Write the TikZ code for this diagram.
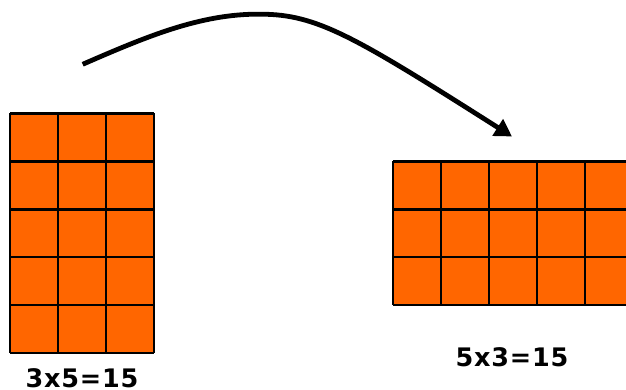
\documentclass[tikz,border=0pt]{standalone}
\usepackage{fontspec}
\setmainfont{DejaVu Sans}
\newfontfamily\labelfont[LetterSpace=3]{DejaVu Sans}
\usetikzlibrary{arrows.meta}
\definecolor{cellorange}{HTML}{FF6600}
\tikzset{
  gridline/.style={draw=black, line width=2.4pt},
  curvearrow/.style={draw=black, line width=4.8pt, -{Triangle[length=17pt,width=19pt]}},
  prodlabel/.style={font=\labelfont\bfseries\fontsize{25.5}{30}\selectfont, inner sep=0pt, anchor=base}
}
\begin{document}
\begin{tikzpicture}[x=1pt,y=-1pt]
\useasboundingbox (0,0) rectangle (626,390);
\clip (0,0) rectangle (626,390);
% left grid 3x5
\fill[cellorange] (10,113.5) rectangle (154,353);
\foreach \i in {0,...,3} \draw[gridline] (10+48*\i,113.5) -- (10+48*\i,353);
\foreach \j in {0,...,5} \draw[gridline] (10,113.5+47.9*\j) -- (154,113.5+47.9*\j);
% right grid 5x3
\fill[cellorange] (393,161.5) rectangle (633,305);
\foreach \i in {0,...,5} \draw[gridline] (393+48*\i,161.5) -- (393+48*\i,305);
\foreach \j in {0,...,3} \draw[gridline] (393,161.5+47.83*\j) -- (633,161.5+47.83*\j);
% labels
\node[prodlabel] (lab1) at (82,387.6) {3x5=15};
\node[prodlabel] (lab2) at (512,366.6) {5x3=15};
% arrow
\coordinate (start) at (82.7,64.3);
\coordinate (peak) at (267,14.3);
\coordinate (tip) at (512,136.5);
\draw[curvearrow] (start) .. controls (150,35) and (205,12) .. (peak)
  .. controls (320,16) and (360,40) .. (tip);
\end{tikzpicture}
\end{document}
